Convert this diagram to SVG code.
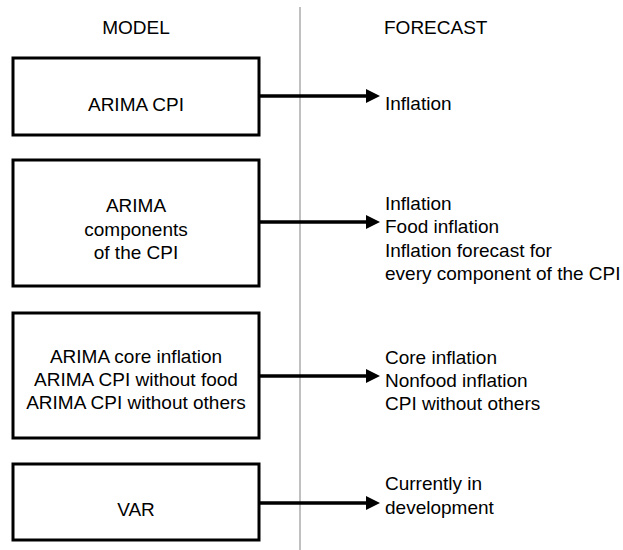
<svg xmlns="http://www.w3.org/2000/svg" width="623" height="550" viewBox="0 0 623 550">
<style>
text{font-family:"Liberation Sans",Arial,sans-serif;font-size:19px;fill:#000}
.c{text-anchor:middle}
.box{fill:#fff;stroke:#000;stroke-width:3}
.conn{stroke:#000;stroke-width:3.5;fill:none;marker-end:url(#ah)}
</style>
<defs>
<marker id="ah" viewBox="0 0 14 14" markerWidth="14" markerHeight="14" refX="1" refY="7" orient="auto" markerUnits="userSpaceOnUse">
<path d="M0,0 L14,7 L0,14 z" fill="#000"/>
</marker>
</defs>
<rect width="623" height="550" fill="#fff"/>
<line x1="300" y1="7" x2="300" y2="550" stroke="#c0c0c0" stroke-width="2"/>
<text class="c" x="136" y="34">MODEL</text>
<text x="384" y="34">FORECAST</text>
<g id="connectors">
<line class="conn" x1="256" y1="96" x2="367" y2="96"/>
<line class="conn" x1="256" y1="222" x2="367" y2="222"/>
<line class="conn" x1="256" y1="376" x2="367" y2="376"/>
<line class="conn" x1="256" y1="503" x2="367" y2="503"/>
</g>
<g id="m1">
<rect class="box" x="13" y="58" width="246" height="77"/>
<text class="c" x="136" y="111">ARIMA CPI</text>
</g>
<g id="m2">
<rect class="box" x="13" y="160" width="246" height="126"/>
<text class="c" x="136" y="212">ARIMA</text>
<text class="c" x="136" y="235.5">components</text>
<text class="c" x="136" y="259">of the CPI</text>
</g>
<g id="m3">
<rect class="box" x="13" y="313" width="246" height="125"/>
<text class="c" x="136" y="363">ARIMA core inflation</text>
<text class="c" x="136" y="386">ARIMA CPI without food</text>
<text class="c" x="136" y="409">ARIMA CPI without others</text>
</g>
<g id="m4">
<rect class="box" x="13" y="464" width="246" height="76"/>
<text class="c" x="136" y="516">VAR</text>
</g>
<g id="f1">
<text x="385" y="110">Inflation</text>
</g>
<g id="f2">
<text x="385" y="210">Inflation</text>
<text x="385" y="233">Food inflation</text>
<text x="385" y="257">Inflation forecast for</text>
<text x="385" y="280">every component of the CPI</text>
</g>
<g id="f3">
<text x="385" y="364">Core inflation</text>
<text x="385" y="387">Nonfood inflation</text>
<text x="385" y="410">CPI without others</text>
</g>
<g id="f4">
<text x="385" y="490">Currently in</text>
<text x="385" y="514">development</text>
</g>
</svg>
